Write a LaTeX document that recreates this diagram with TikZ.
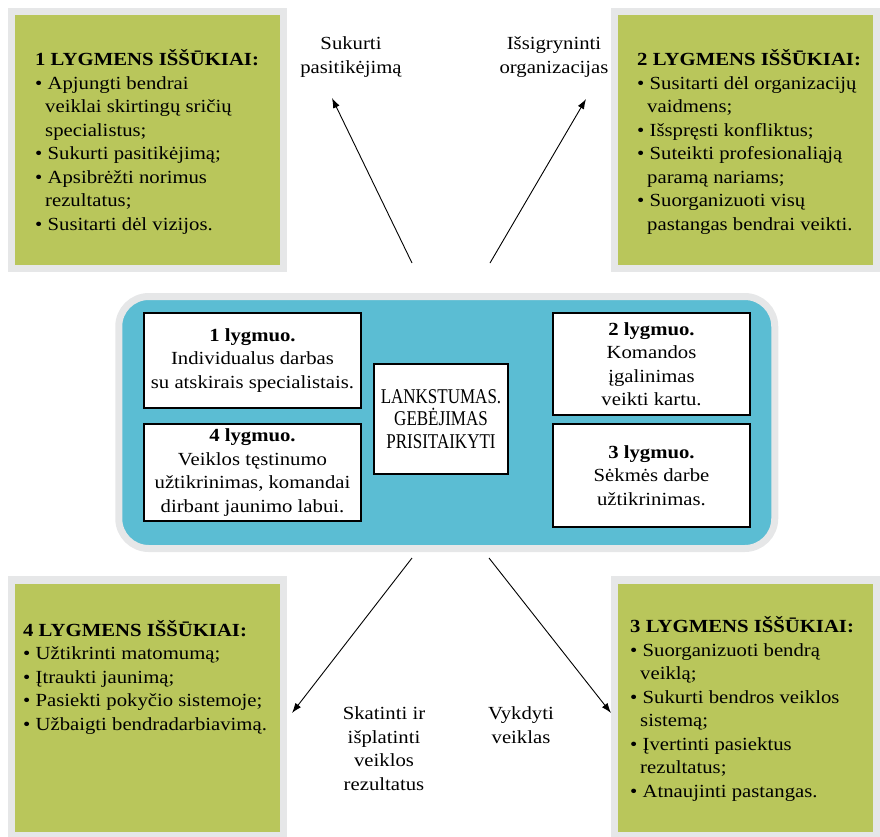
\documentclass[tikz,border=0pt]{standalone}
\usepackage{fontspec}
\setmainfont{Liberation Serif}[FakeStretch=1.12]
\newfontfamily\corefont{Liberation Serif}[FakeStretch=0.81]
\usetikzlibrary{arrows.meta}
\definecolor{leafgreen}{RGB}{185,198,91}
\definecolor{lagoon}{RGB}{91,189,211}
\definecolor{rimgrey}{RGB}{230,231,232}
\newcommand{\bul}{\textbullet\ }
\newcommand{\wrapin}{\hspace*{10pt}}
\tikzset{
    every node/.style={font=\fontsize{18.5}{23.5}\selectfont}
}
\tikzset{
    challenge/.style={rectangle, fill=leafgreen, draw=rimgrey, line width=7.5pt},
    level/.style={rectangle, fill=white, draw=black, line width=1.6pt, align=center},
    % base = baseline of the last line
    bullets/.style={align=left, anchor=base west, inner sep=0pt},
    note/.style={align=center, anchor=base, inner sep=0pt},
    push/.style={-{Latex[length=10pt,width=7pt]}, line width=0.9pt}
}

\begin{document}
\begin{tikzpicture}[x=1pt,y=-1pt]
	\useasboundingbox (0,0) rectangle (880,836);
	% the four challenge boxes
	\node (c1) [challenge, minimum width=272pt, minimum height=257pt] at (147.5,140) {};
	\node (c2) [challenge, minimum width=262pt, minimum height=257pt] at (745.5,140) {};
	\node (c4) [challenge, minimum width=272pt, minimum height=256pt] at (147.5,708) {};
	\node (c3) [challenge, minimum width=262pt, minimum height=256pt] at (745.5,708) {};

	\node (t1) [bullets] at (35,230) {\textbf{1 LYGMENS IŠŠŪKIAI:}\\
		\bul Apjungti bendrai\\ \wrapin veiklai skirtingų sričių\\ \wrapin specialistus;\\
		\bul Sukurti pasitikėjimą;\\
		\bul Apsibrėžti norimus\\ \wrapin rezultatus;\\
		\bul Susitarti dėl vizijos.};
	\node (t2) [bullets] at (637,230) {\textbf{2 LYGMENS IŠŠŪKIAI:}\\
		\bul Susitarti dėl organizacijų\\ \wrapin vaidmens;\\
		\bul Išspręsti konfliktus;\\
		\bul Suteikti profesionaliąją\\ \wrapin paramą nariams;\\
		\bul Suorganizuoti visų\\ \wrapin pastangas bendrai veikti.};
	\node (t4) [bullets] at (23,730) {\textbf{4 LYGMENS IŠŠŪKIAI:}\\
		\bul Užtikrinti matomumą;\\
		\bul Įtraukti jaunimą;\\
		\bul Pasiekti pokyčio sistemoje;\\
		\bul Užbaigti bendradarbiavimą.};
	\node (t3) [bullets] at (630,797) {\textbf{3 LYGMENS IŠŠŪKIAI:}\\
		\bul Suorganizuoti bendrą\\ \wrapin veiklą;\\
		\bul Sukurti bendros veiklos\\ \wrapin sistemą;\\
		\bul Įvertinti pasiektus\\ \wrapin rezultatus;\\
		\bul Atnaujinti pastangas.};

	% middle panel with the levels
	\node (hub) [rounded corners=30pt, fill=lagoon, draw=rimgrey, line width=7pt,
		minimum width=656pt, minimum height=252pt] at (446.75,422.5) {};
	\node (l1) [level, minimum width=217pt, minimum height=95pt] at (252.5,360.5)
		{\textbf{1 lygmuo.}\\ Individualus darbas\\ su atskirais specialistais.};
	\node (l4) [level, minimum width=217pt, minimum height=97pt] at (252.5,472.5)
		{\textbf{4 lygmuo.}\\ Veiklos tęstinumo\\ užtikrinimas, komandai\\ dirbant jaunimo labui.};
	\node (core) [level, minimum width=134pt, minimum height=110pt,
		font=\corefont\fontsize{21}{22.5}\selectfont] at (441,419)
		{LANKSTUMAS.\\ GEBĖJIMAS\\ PRISITAIKYTI};
	\node (l2) [level, minimum width=197pt, minimum height=102pt] at (651.5,364)
		{\textbf{2 lygmuo.}\\ Komandos\\ įgalinimas\\ veikti kartu.};
	\node (l3) [level, minimum width=197pt, minimum height=103pt] at (651.5,475.5)
		{\textbf{3 lygmuo.}\\ Sėkmės darbe\\ užtikrinimas.};

	% arrows and their captions
	\coordinate (a1) at (412,263); \coordinate (b1) at (332,98);
	\coordinate (a2) at (490,263); \coordinate (b2) at (586,99);
	\coordinate (a3) at (412,558); \coordinate (b3) at (292,713);
	\coordinate (a4) at (489,558); \coordinate (b4) at (611,713);
	\draw[push] (a1) -- (b1);
	\draw[push] (a2) -- (b2);
	\draw[push] (a3) -- (b3);
	\draw[push] (a4) -- (b4);

	\node (n1) [note] at (351,73) {Sukurti\\ pasitikėjimą};
	\node (n2) [note] at (554,73) {Išsigryninti\\ organizacijas};
	\node (n3) [note] at (384,790) {Skatinti ir\\ išplatinti\\ veiklos\\ rezultatus};
	\node (n4) [note] at (521,743) {Vykdyti\\ veiklas};
\end{tikzpicture}
\end{document}
